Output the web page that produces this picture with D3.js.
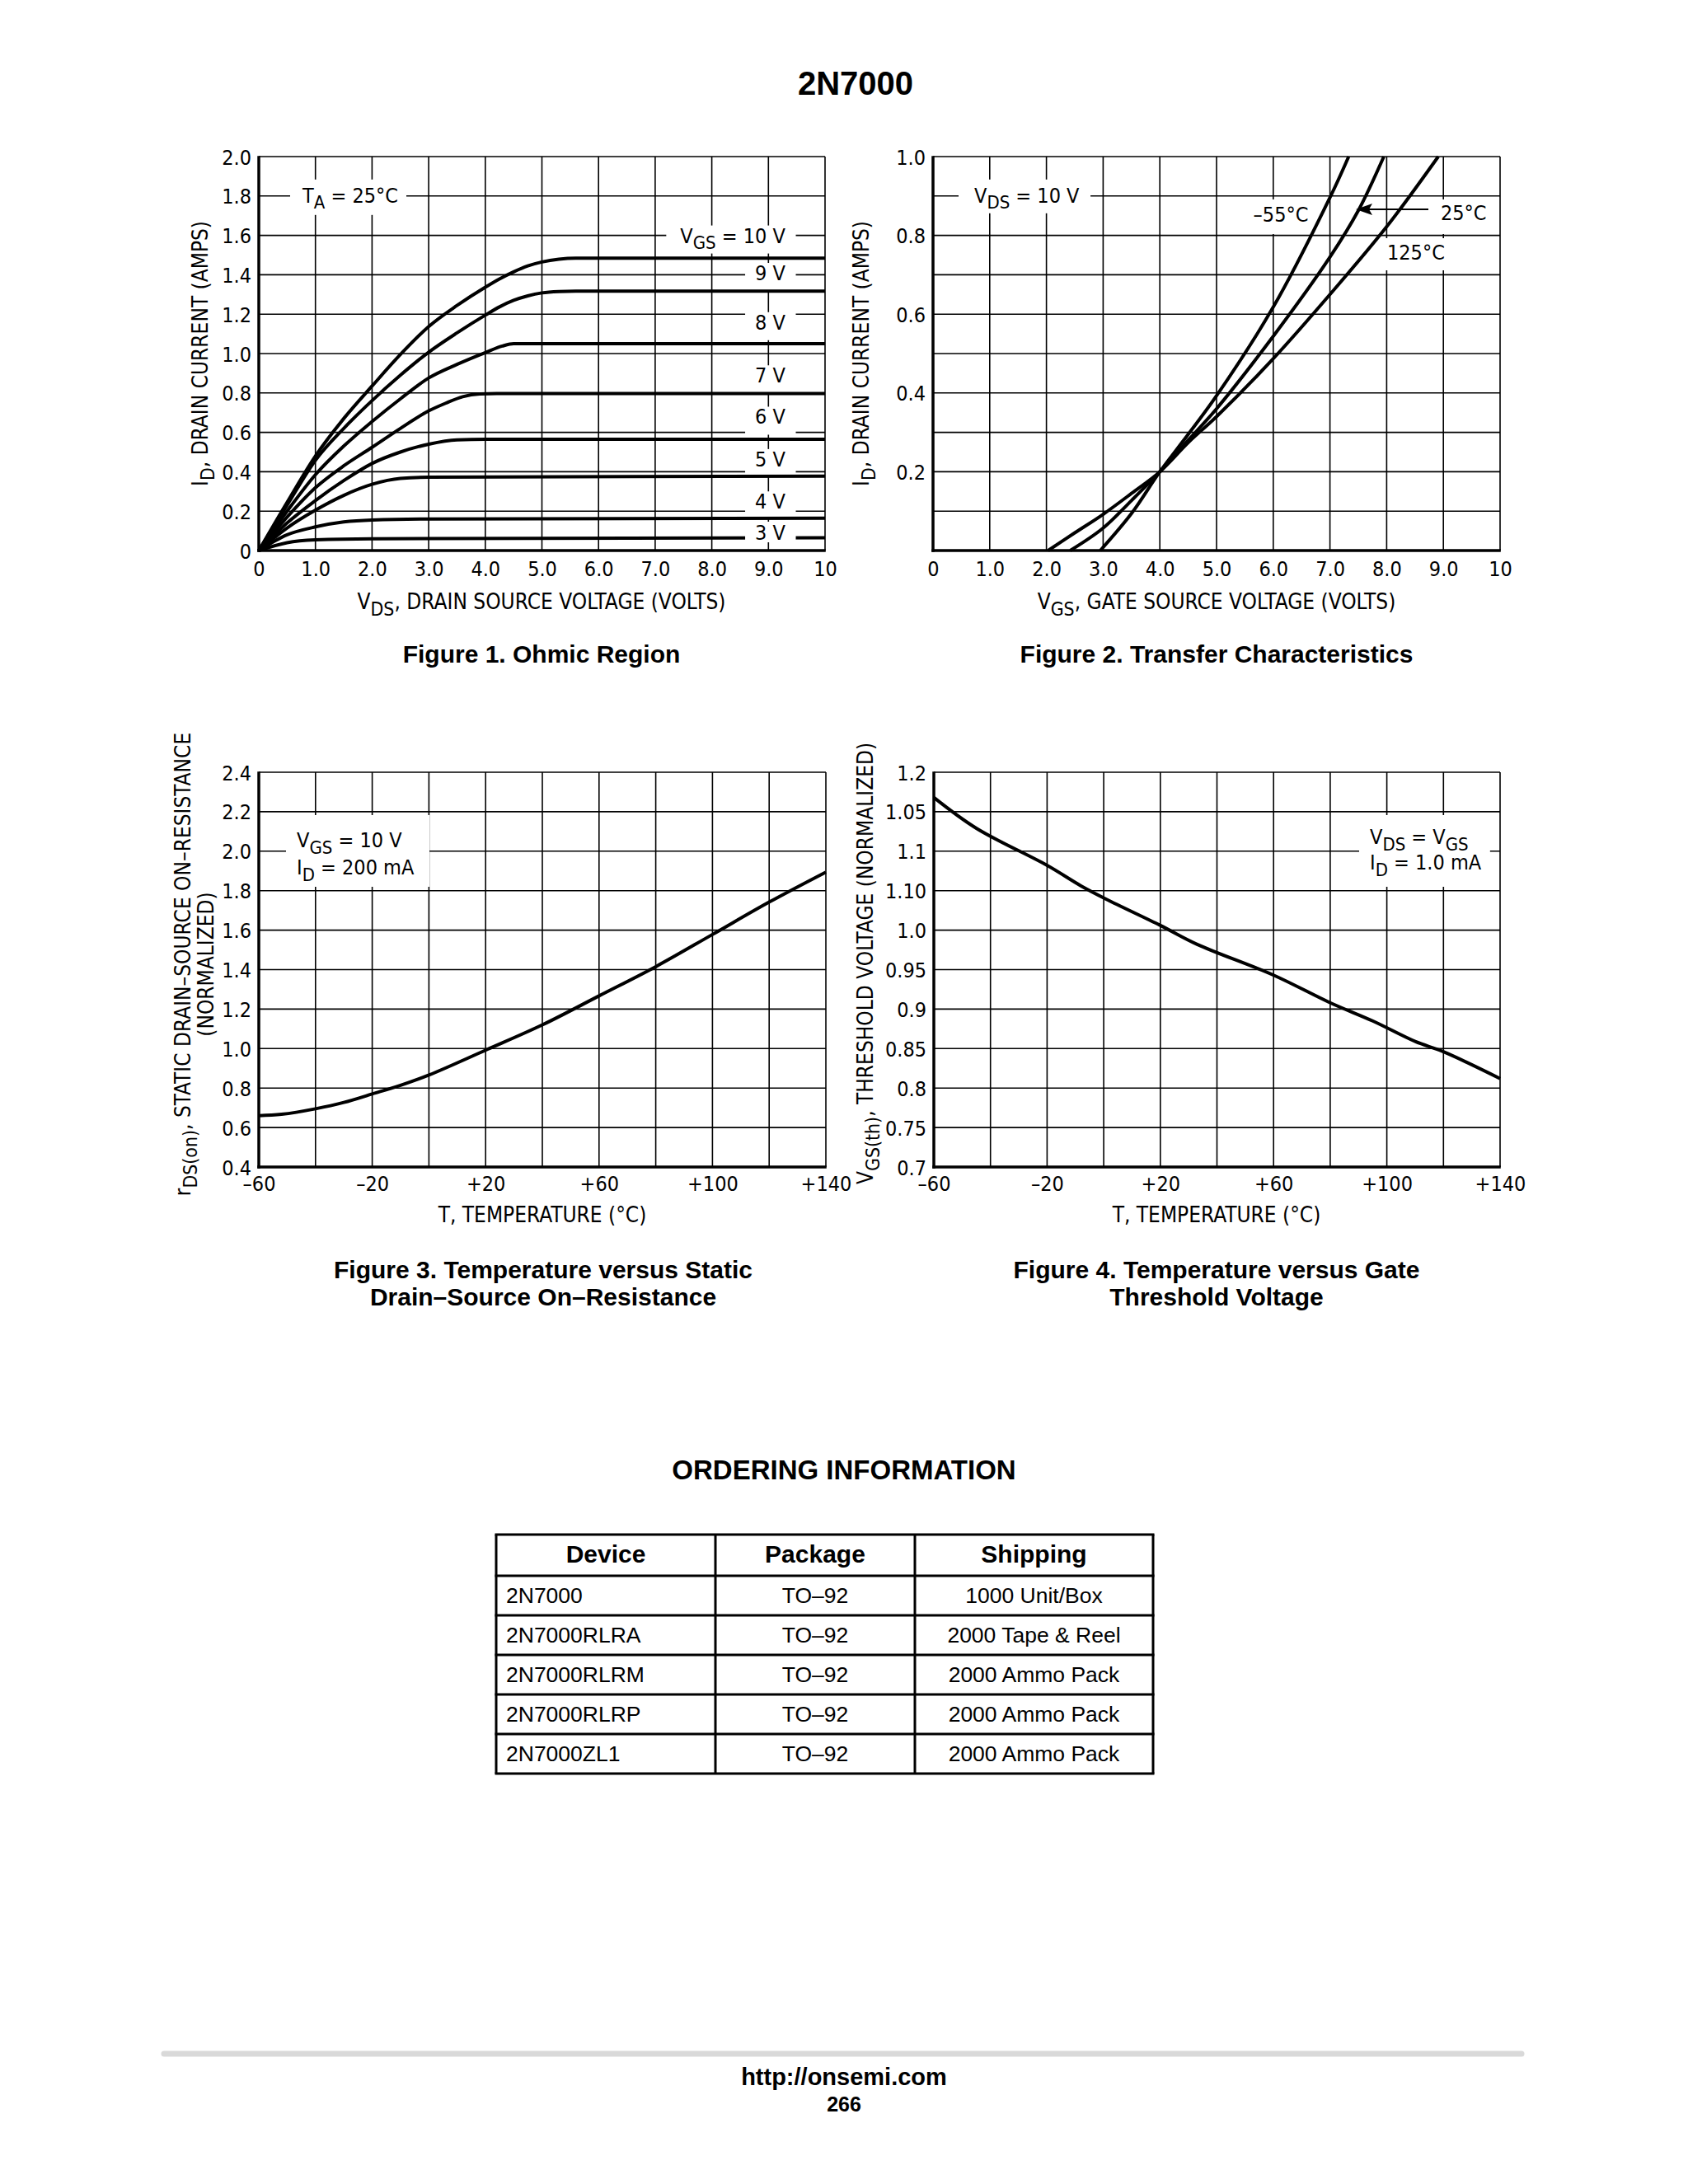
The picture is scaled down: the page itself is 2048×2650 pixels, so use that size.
<!DOCTYPE html>
<html>
<head>
<meta charset="utf-8">
<title>2N7000</title>
<script src="https://cdn.jsdelivr.net/npm/d3@7/dist/d3.min.js"></script>
<style>
  body { margin: 0; background: #fff; }
  svg { display: block; }
  .nar { font-family: "Liberation Sans Narrow", "Arial Narrow", "DejaVu Sans Condensed", sans-serif; fill: #000; }
  .bld { font-family: "Liberation Sans", Arial, Helvetica, sans-serif; font-weight: bold; fill: #000; }
  .reg { font-family: "Liberation Sans", Arial, Helvetica, sans-serif; fill: #000; }
</style>
</head>
<body>
<svg id="page" width="2048" height="2650" viewBox="0 0 2048 2650"></svg>
<script>
// Figure 1 - ohmic region, I_D (A) vs V_DS (V), one series per V_GS
const ohmic10V = [[0,0],[0.5,0.245],[1,0.48],[1.5,0.67],[2,0.835],[2.5,0.995],[3,1.137],[3.5,1.244],[4,1.337],[4.25,1.379],[4.5,1.415],[4.75,1.445],[5,1.465],[5.3,1.479],[5.6,1.484],[10,1.484]];
const ohmic9V  = [[0,0],[0.5,0.23],[1,0.458],[1.5,0.62],[2,0.761],[2.5,0.89],[3,1.007],[3.5,1.105],[4,1.195],[4.25,1.237],[4.5,1.27],[4.75,1.293],[5,1.308],[5.3,1.315],[5.6,1.317],[10,1.317]];
const ohmic8V  = [[0,0],[0.5,0.2],[1,0.385],[1.5,0.53],[2,0.655],[2.5,0.77],[3,0.876],[3.5,0.945],[4,1.005],[4.3,1.038],[4.5,1.05],[10,1.05]];
const ohmic7V  = [[0,0],[0.5,0.17],[1,0.319],[1.5,0.43],[2,0.524],[2.5,0.62],[3,0.709],[3.3,0.748],[3.6,0.781],[3.9,0.795],[4.2,0.797],[10,0.797]];
const ohmic6V  = [[0,0],[0.5,0.14],[1,0.254],[1.5,0.355],[2,0.442],[2.5,0.5],[3,0.54],[3.5,0.562],[4,0.565],[10,0.565]];
const ohmic5V  = [[0,0],[0.5,0.115],[1,0.205],[1.5,0.28],[2,0.336],[2.5,0.366],[3,0.372],[10,0.378]];
const ohmic4V  = [[0,0],[0.5,0.08],[1,0.12],[1.5,0.145],[2,0.155],[3,0.16],[10,0.164]];
const ohmic3V  = [[0,0],[0.5,0.04],[1,0.054],[2,0.06],[10,0.065]];
const ohmicSeries = [ohmic10V, ohmic9V, ohmic8V, ohmic7V, ohmic6V, ohmic5V, ohmic4V, ohmic3V];
const ohmicNames  = ['10 V', '9 V', '8 V', '7 V', '6 V', '5 V', '4 V', '3 V'];
const ohmicXTicks = ['0','1.0','2.0','3.0','4.0','5.0','6.0','7.0','8.0','9.0','10'];
const ohmicYTicks = ['0','0.2','0.4','0.6','0.8','1.0','1.2','1.4','1.6','1.8','2.0'];

// Figure 2 - transfer characteristics, I_D (A) vs V_GS (V)
const transferM55 = [[2.95,0],[3.5,0.094],[4,0.2],[4.5,0.295],[5,0.393],[6,0.618],[7,0.896],[7.33,1.0]];
const transfer25  = [[2.42,0],[3,0.057],[3.5,0.127],[4,0.2],[4.5,0.28],[5,0.36],[6,0.544],[7,0.745],[7.5,0.863],[7.95,1.0]];
const transfer125 = [[2.03,0],[2.5,0.045],[3,0.092],[3.5,0.145],[4,0.2],[4.5,0.274],[5,0.34],[6,0.487],[7,0.65],[8,0.822],[8.91,1.0]];
const transferNames = ['\u201355\u00B0C', '25\u00B0C', '125\u00B0C'];
const transferYTicks = ['0.2','0.4','0.6','0.8','1.0'];

// Figure 3 - normalized r_DS(on) vs temperature (C)
const rdsTemp = [-60,-52,-40,-30,-20,-10,0,20,40,60,80,100,120,140];
const rdsNorm = [0.66,0.667,0.695,0.727,0.77,0.814,0.866,0.992,1.12,1.267,1.415,1.578,1.742,1.894];
const rdsYTicks = ['0.4','0.6','0.8','1.0','1.2','1.4','1.6','1.8','2.0','2.2','2.4'];

// Figure 4 - normalized V_GS(th) vs temperature (C)
const vthTemp = [-60,-45,-20,-8,1,20,33,60,80,95,110,120,140];
const vthNorm = [1.168,1.129,1.082,1.056,1.039,1.006,0.982,0.943,0.908,0.885,0.859,0.846,0.812];
// printed as in the datasheet (bottom to top)
const vthYTicks = ['0.7','0.75','0.8','0.85','0.9','0.95','1.0','1.10','1.1','1.05','1.2'];

const tempXTicks = ['\u201360','\u201320','+20','+60','+100','+140'];

// Ordering table
const tableHead = ['Device', 'Package', 'Shipping'];
const devices   = ['2N7000', '2N7000RLRA', '2N7000RLRM', '2N7000RLRP', '2N7000ZL1'];
const packages  = ['TO\u201392', 'TO\u201392', 'TO\u201392', 'TO\u201392', 'TO\u201392'];
const shipping  = ['1000 Unit/Box', '2000 Tape & Reel', '2000 Ammo Pack', '2000 Ammo Pack', '2000 Ammo Pack'];

// ---------------------------------------------------------------
const svg = d3.select('#page');
svg.append('rect').attr('width', 2048).attr('height', 2650).attr('fill', '#fff');

const gridL   = svg.append('g');
const boxL    = svg.append('g');
const curveL  = svg.append('g');
const topBoxL = svg.append('g');
const textL   = svg.append('g');
const axisL   = svg.append('g');

const X1 = d3.scaleLinear([0, 10], [314, 1001]);
const Y1 = d3.scaleLinear([0, 2], [668, 190]);
const X2 = d3.scaleLinear([0, 10], [1132, 1820]);
const Y2 = d3.scaleLinear([0, 1], [668, 190]);
const X3 = d3.scaleLinear([-60, 140], [314, 1002]);
const Y3 = d3.scaleLinear([0.4, 2.4], [1416, 937]);
const X4 = d3.scaleLinear([-60, 140], [1133, 1820]);
const Y4 = d3.scaleLinear([0.7, 1.2], [1416, 937]);

const TICK = 25;

function grid(xs, ys, xv, yv) {
  const g = gridL.append('g').attr('stroke', '#000').attr('stroke-width', 1.6);
  const [xa, xb] = xs.range();
  const [ya, yb] = ys.range();
  g.selectAll('line.v').data(xv).join('line').attr('class', 'v')
    .attr('x1', d => xs(d)).attr('x2', d => xs(d)).attr('y1', ya).attr('y2', yb);
  g.selectAll('line.h').data(yv).join('line').attr('class', 'h')
    .attr('y1', d => ys(d)).attr('y2', d => ys(d)).attr('x1', xa).attr('x2', xb);
  // heavy left and bottom axes
  axisL.append('line').attr('x1', xa).attr('x2', xa).attr('y1', yb - 0.8).attr('y2', ya + 1.75)
    .attr('stroke', '#000').attr('stroke-width', 3.5);
  axisL.append('line').attr('x1', xa - 1.75).attr('x2', xb + 0.8).attr('y1', ya).attr('y2', ya)
    .attr('stroke', '#000').attr('stroke-width', 3.5);
}

function tickLabels(xs, ys, xv, xt, yv, yt, xPad) {
  const ya = ys.range()[0], xa = xs.range()[0];
  textL.append('g').attr('transform', `translate(0,${ya})`)
    .call(d3.axisBottom(xs).tickValues(xv).tickFormat((d, i) => xt[i]).tickSize(0).tickPadding(xPad))
    .call(g => g.select('.domain').remove())
    .selectAll('text').attr('class', 'nar').attr('font-size', TICK);
  textL.append('g').attr('transform', `translate(${xa},0)`)
    .call(d3.axisLeft(ys).tickValues(yv).tickFormat((d, i) => yt[i]).tickSize(0).tickPadding(9))
    .call(g => g.select('.domain').remove())
    .selectAll('text').attr('class', 'nar').attr('font-size', TICK).attr('dy', '0.36em');
}

// parts: [[text, isSub], ...]
function rich(parent, x, y, parts, size, anchor, cls) {
  const t = parent.append('text').attr('x', x).attr('y', y)
    .attr('class', cls || 'nar').attr('font-size', size).attr('text-anchor', anchor || 'start');
  let shift = 0;
  parts.forEach(([s, sub]) => {
    const sp = t.append('tspan').text(s);
    const target = sub ? size * 0.3 : 0;
    if (target !== shift) { sp.attr('dy', target - shift); shift = target; }
    if (sub) sp.attr('font-size', size * 0.88);
  });
  return t;
}

function backBox(layer, textSel, top, bottom, padL, padR) {
  const b = textSel.node().getBBox();
  layer.append('rect').attr('x', b.x - padL).attr('y', top)
    .attr('width', b.width + padL + padR).attr('height', bottom - top).attr('fill', '#fff');
}

function rotTitle(cx, cy, parts, size) {
  const g = textL.append('g').attr('transform', `translate(${cx},${cy}) rotate(-90)`);
  return rich(g, 0, 0, parts, size, 'middle');
}

function curve(xs, ys, pts, width, shape) {
  const line = d3.line().x(d => xs(d[0])).y(d => ys(d[1])).curve(shape || d3.curveMonotoneX);
  curveL.append('path').attr('d', line(pts)).attr('fill', 'none')
    .attr('stroke', '#000').attr('stroke-width', width).attr('stroke-linejoin', 'round');
}

// ---------------- Title ----------------
textL.append('text').attr('class', 'bld').attr('x', 1038).attr('y', 115)
  .attr('font-size', 40).attr('text-anchor', 'middle').text('2N7000');

// ---------------- Figure 1 ----------------
grid(X1, Y1, d3.range(0, 11), d3.range(0, 11).map(i => i * 0.2));
tickLabels(X1, Y1, d3.range(0, 11), ohmicXTicks, d3.range(0, 11).map(i => i * 0.2), ohmicYTicks, 13);
ohmicSeries.forEach(s => curve(X1, Y1, s, 4));

const ohmicLabelI = [1.6, 1.41, 1.16, 0.89, 0.68, 0.465, 0.25, 0.092];
ohmicNames.forEach((n, i) => {
  const cy = Y1(ohmicLabelI[i]);
  const parts = i === 0 ? [['V'], ['GS', 1], [' = ' + n]] : [[n]];
  const t = rich(textL, X1(9.3), cy + 9, parts, 25, 'end');
  if (i === 7) backBox(topBoxL, t, cy - 13, cy + 12, 12, 12);
  else backBox(boxL, t, cy - 12, cy + 22, i === 0 ? 17 : 12, 12);
});
{
  const cy = Y1(1.8) - 1;
  const t = rich(textL, 367, cy + 9, [['T'], ['A', 1], [' = 25\u00B0C']], 25);
  backBox(boxL, t, cy - 19, cy + 24, 14, 10);
}
rotTitle(252, 429, [['I'], ['D', 1], [', DRAIN CURRENT (AMPS)']], 26);
rich(textL, 657, 739, [['V'], ['DS', 1], [', DRAIN SOURCE VOLTAGE (VOLTS)']], 26, 'middle');
textL.append('text').attr('class', 'bld').attr('x', 657).attr('y', 804)
  .attr('font-size', 30).attr('text-anchor', 'middle').text('Figure 1. Ohmic Region');

// ---------------- Figure 2 ----------------
grid(X2, Y2, d3.range(0, 11), d3.range(0, 11).map(i => i * 0.1));
tickLabels(X2, Y2, d3.range(0, 11), ohmicXTicks, [0.2, 0.4, 0.6, 0.8, 1.0], transferYTicks, 13);
[transferM55, transfer25, transfer125].forEach(s => curve(X2, Y2, s, 4, d3.curveCatmullRom.alpha(0.5)));
{
  const cy = Y2(0.9) - 1;
  const t = rich(textL, 1182, cy + 9, [['V'], ['DS', 1], [' = 10 V']], 25);
  backBox(boxL, t, cy - 19, cy + 22, 19, 13);
  const t1 = rich(textL, 1554, 269, [[transferNames[0]]], 25, 'middle');
  backBox(boxL, t1, 242, 284, 8, 8);
  const t2 = rich(textL, 1748, 267, [[transferNames[1]]], 25);
  backBox(boxL, t2, 242, 284, 6, 6);
  const t3 = rich(textL, 1683, 315, [[transferNames[2]]], 25);
  backBox(boxL, t3, 289, 328, 6, 4);
  // arrow pointing to the 25 C curve
  textL.append('line').attr('x1', 1733).attr('x2', 1660).attr('y1', 254).attr('y2', 254)
    .attr('stroke', '#000').attr('stroke-width', 2);
  textL.append('path').attr('d', 'M1645,254 L1665,247 L1661,254 L1665,261 Z').attr('fill', '#000');
}
rotTitle(1054, 429, [['I'], ['D', 1], [', DRAIN CURRENT (AMPS)']], 26);
rich(textL, 1476, 739, [['V'], ['GS', 1], [', GATE SOURCE VOLTAGE (VOLTS)']], 26, 'middle');
textL.append('text').attr('class', 'bld').attr('x', 1476).attr('y', 804)
  .attr('font-size', 30).attr('text-anchor', 'middle').text('Figure 2. Transfer Characteristics');

// ---------------- Figure 3 ----------------
const tempGrid = d3.range(-60, 141, 20);
const tempLab = [-60, -20, 20, 60, 100, 140];
grid(X3, Y3, tempGrid, d3.range(0, 11).map(i => 0.4 + i * 0.2));
tickLabels(X3, Y3, tempLab, tempXTicks, d3.range(0, 11).map(i => 0.4 + i * 0.2), rdsYTicks, 11);
curve(X3, Y3, rdsTemp.map((t, i) => [t, rdsNorm[i]]), 4, d3.curveCatmullRom.alpha(0.5));
{
  const t1 = rich(textL, 360, 1028, [['V'], ['GS', 1], [' = 10 V']], 25);
  const t2 = rich(textL, 360, 1061, [['I'], ['D', 1], [' = 200 mA']], 25);
  const b1 = t1.node().getBBox(), b2 = t2.node().getBBox();
  const x0 = Math.min(b1.x, b2.x) - 13, x1 = Math.max(b1.x + b1.width, b2.x + b2.width) + 18;
  boxL.append('rect').attr('x', x0).attr('y', 989).attr('width', x1 - x0).attr('height', 87).attr('fill', '#fff');
}
{
  const g = textL.append('g').attr('transform', 'translate(231,1170) rotate(-90)');
  rich(g, 0, 0, [['r'], ['DS(on)', 1], [', STATIC DRAIN\u2013SOURCE ON\u2013RESISTANCE']], 26, 'middle');
  const g2 = textL.append('g').attr('transform', 'translate(259,1170) rotate(-90)');
  rich(g2, 0, 0, [['(NORMALIZED)']], 26, 'middle');
}
rich(textL, 658, 1483, [['T, TEMPERATURE (\u00B0C)']], 26, 'middle');
textL.append('text').attr('class', 'bld').attr('x', 659).attr('y', 1551)
  .attr('font-size', 30).attr('text-anchor', 'middle').text('Figure 3. Temperature versus Static');
textL.append('text').attr('class', 'bld').attr('x', 659).attr('y', 1584)
  .attr('font-size', 30).attr('text-anchor', 'middle').text('Drain\u2013Source On\u2013Resistance');

// ---------------- Figure 4 ----------------
const vthGrid = d3.range(0, 11).map(i => 0.7 + i * 0.05);
grid(X4, Y4, tempGrid, vthGrid);
tickLabels(X4, Y4, tempLab, tempXTicks, vthGrid, vthYTicks, 11);
curve(X4, Y4, vthTemp.map((t, i) => [t, vthNorm[i]]), 4, d3.curveCatmullRom.alpha(0.5));
{
  const t1 = rich(textL, 1662, 1024, [['V'], ['DS', 1], [' = V'], ['GS', 1]], 25);
  const t2 = rich(textL, 1662, 1055, [['I'], ['D', 1], [' = 1.0 mA']], 25);
  const b1 = t1.node().getBBox(), b2 = t2.node().getBBox();
  const x0 = Math.min(b1.x, b2.x) - 13, x1 = Math.max(b1.x + b1.width, b2.x + b2.width) + 10;
  boxL.append('rect').attr('x', x0).attr('y', 989).attr('width', x1 - x0).attr('height', 87).attr('fill', '#fff');
}
rotTitle(1059, 1169, [['V'], ['GS(th)', 1], [', THRESHOLD VOLTAGE (NORMALIZED)']], 26);
rich(textL, 1476, 1483, [['T, TEMPERATURE (\u00B0C)']], 26, 'middle');
textL.append('text').attr('class', 'bld').attr('x', 1476).attr('y', 1551)
  .attr('font-size', 30).attr('text-anchor', 'middle').text('Figure 4. Temperature versus Gate');
textL.append('text').attr('class', 'bld').attr('x', 1476).attr('y', 1584)
  .attr('font-size', 30).attr('text-anchor', 'middle').text('Threshold Voltage');

// ---------------- Ordering information ----------------
textL.append('text').attr('class', 'bld').attr('x', 1024).attr('y', 1795)
  .attr('font-size', 33).attr('text-anchor', 'middle').text('ORDERING INFORMATION');

const colEdges = [602, 868, 1110, 1399];
const rowEdges = [1862, 1912, 1960, 2008, 2056, 2104, 2152];
const tbl = svg.append('g');
tbl.selectAll('line.r').data(rowEdges).join('line').attr('class', 'r')
  .attr('x1', colEdges[0] - 1.5).attr('x2', colEdges[3] + 1.5).attr('y1', d => d).attr('y2', d => d)
  .attr('stroke', '#000').attr('stroke-width', 3);
tbl.selectAll('line.c').data(colEdges).join('line').attr('class', 'c')
  .attr('y1', rowEdges[0]).attr('y2', rowEdges[6]).attr('x1', d => d).attr('x2', d => d)
  .attr('stroke', '#000').attr('stroke-width', 3);
tableHead.forEach((h, i) => {
  tbl.append('text').attr('class', 'bld').attr('font-size', 30).attr('text-anchor', 'middle')
    .attr('x', (colEdges[i] + colEdges[i + 1]) / 2).attr('y', 1896).text(h);
});
devices.forEach((d, r) => {
  const cy = (rowEdges[r + 1] + rowEdges[r + 2]) / 2 + 9;
  tbl.append('text').attr('class', 'reg').attr('font-size', 26.5).attr('x', colEdges[0] + 12).attr('y', cy).text(d);
  tbl.append('text').attr('class', 'reg').attr('font-size', 26.5).attr('text-anchor', 'middle')
    .attr('x', (colEdges[1] + colEdges[2]) / 2).attr('y', cy).text(packages[r]);
  tbl.append('text').attr('class', 'reg').attr('font-size', 26.5).attr('text-anchor', 'middle')
    .attr('x', (colEdges[2] + colEdges[3]) / 2).attr('y', cy).text(shipping[r]);
});

// ---------------- Footer ----------------
svg.append('line').attr('x1', 199).attr('x2', 1846).attr('y1', 2492).attr('y2', 2492)
  .attr('stroke', '#d9d9d9').attr('stroke-width', 7).attr('stroke-linecap', 'round');
svg.append('text').attr('class', 'bld').attr('x', 1024).attr('y', 2530)
  .attr('font-size', 29).attr('text-anchor', 'middle').text('http://onsemi.com');
svg.append('text').attr('class', 'bld').attr('x', 1024).attr('y', 2562)
  .attr('font-size', 25).attr('text-anchor', 'middle').text('266');
</script>
</body>
</html>
